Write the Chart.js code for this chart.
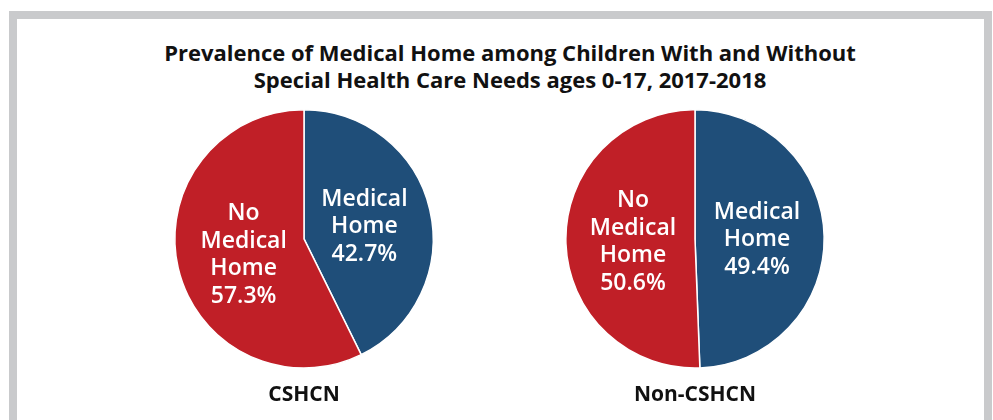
<!DOCTYPE html>
<html>
<head>
<meta charset="utf-8">
<script src="https://cdn.jsdelivr.net/npm/chart.js@4.4.1/dist/chart.umd.min.js"></script>
<style>
  html, body { margin: 0; padding: 0; background: #fff; }
  body { width: 993px; height: 420px; position: relative; overflow: hidden; font-family: "Open Sans", sans-serif; }
  #frame { position: absolute; left: 9px; top: 11px; width: 967px; height: 440px; border: 8px solid #c9cacc; }
  #title { position: absolute; left: 60px; width: 900px; top: 39px; text-align: center;
           font: bold 22px "Open Sans", sans-serif; line-height: 27px; color: #111; }
  .pie { position: absolute; top: 109px; width: 300px; height: 308px; }
  #pie1 { left: 154px; }
  #pie2 { left: 545px; }
</style>
</head>
<body>
<div id="frame"></div>
<div id="title">Prevalence of Medical Home among Children With and Without<br>Special Health Care Needs ages 0-17, 2017-2018</div>
<div class="pie" id="pie1"><canvas id="chart-cshcn"></canvas></div>
<div class="pie" id="pie2"><canvas id="chart-non"></canvas></div>
<script>
// categories (wrapped as they appear inside the slices)
const categories = [["Medical", "Home"], ["No", "Medical", "Home"]];
const groups = ["CSHCN", "Non-CSHCN"];
const cshcnValues = [42.7, 57.3];
const nonCshcnValues = [49.4, 50.6];

const colors = ["#1f4e79", "#c01f27"];

// draws the category + percent inside each slice
const sliceLabels = {
  id: "sliceLabels",
  afterDatasetsDraw(chart) {
    const ctx = chart.ctx;
    const meta = chart.getDatasetMeta(0);
    const values = chart.data.datasets[0].data;
    ctx.save();
    ctx.fillStyle = "#fff";
    ctx.font = "600 23px 'Open Sans', sans-serif";
    ctx.textAlign = "center";
    ctx.textBaseline = "middle";
    meta.data.forEach((arc, i) => {
      const mid = (arc.startAngle + arc.endAngle) / 2;
      const dist = arc.outerRadius * 0.48;
      const x = arc.x + Math.cos(mid) * dist;
      const y = arc.y + Math.sin(mid) * dist + 2;
      const lines = chart.data.labels[i].concat(values[i].toFixed(1) + "%");
      const lh = 27.5;
      const top = y - (lines.length - 1) * lh / 2;
      lines.forEach((t, k) => ctx.fillText(t, x, top + k * lh));
    });
    ctx.restore();
  }
};

function makePie(id, values, name) {
  return new Chart(document.getElementById(id), {
    type: "pie",
    data: {
      labels: categories,
      datasets: [{
        data: values,
        backgroundColor: colors,
        borderColor: "#fff",
        borderWidth: 1.5,
      }],
    },
    options: {
      responsive: true,
      maintainAspectRatio: false,
      animation: false,
      layout: { padding: 0 },
      plugins: {
        legend: { display: false },
        tooltip: { enabled: false },
        title: {
          display: true,
          position: "bottom",
          text: name,
          color: "#111",
          font: { family: "'Open Sans', sans-serif", size: 21, weight: "bold" },
          padding: { top: 14, bottom: 9 },
        },
      },
    },
    plugins: [sliceLabels],
  });
}

makePie("chart-cshcn", cshcnValues, groups[0]);
makePie("chart-non", nonCshcnValues, groups[1]);
</script>
</body>
</html>
